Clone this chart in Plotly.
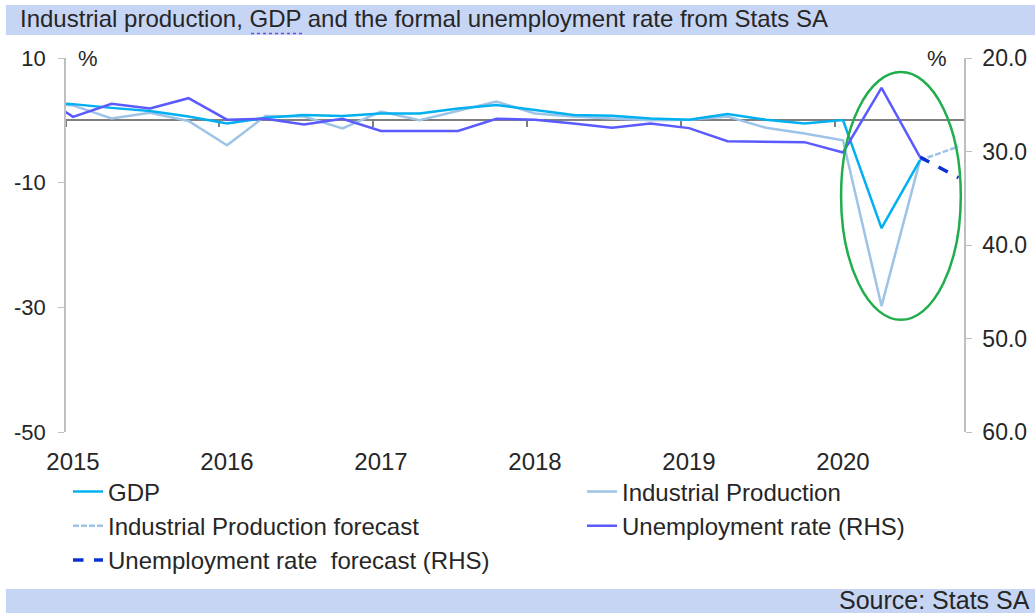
import plotly.graph_objects as go

# ---------------- data ----------------
# quarterly positions: index 0 = 2015Q1 (index -1 = 2014Q4, partly visible at the left edge)
quarter_idx = list(range(-1, 23))          # 2014Q4 .. 2020Q3
forecast_idx = [22, 23]                     # 2020Q3 .. 2020Q4

gdp = [3.0, 2.6, 2.0, 1.5, 0.6, -0.5, 0.4, 0.85, 0.7, 1.1, 1.1, 1.9, 2.45,
       1.65, 0.85, 0.75, 0.3, 0.1, 1.0, 0.1, -0.5, 0.05, -17.3, -6.4]
industrial = [2.8, 2.4, 0.3, 1.2, -0.1, -4.0, 0.7, 0.6, -1.3, 1.4, 0.0, 1.5, 3.0,
              1.1, 0.6, 0.3, 0.0, 0.1, 0.6, -1.2, -2.1, -3.2, -29.8, -6.4]
industrial_fc = [-6.4, -4.2]
unemployment = [23.6, 26.3, 24.9, 25.4, 24.3, 26.6, 26.5, 27.1, 26.5, 27.8, 27.8,
                27.8, 26.5, 26.6, 27.0, 27.45, 27.0, 27.5, 28.9, 28.95, 29.0, 30.1,
                23.2, 30.6]
unemployment_fc = [30.6, 32.8]

year_labels = ["2015", "2016", "2017", "2018", "2019", "2020"]
year_label_pos = [0, 4, 8, 12, 16, 20]
year_tick_pos = [-0.18, 3.8, 7.8, 11.8, 15.8, 19.8]
left_ticks = [-50, -30, -10, 10]
left_tick_text = ["-50", "-30", "-10", "10"]
right_ticks = [20, 30, 40, 50, 60]

FONT = "Liberation Sans, Arial, sans-serif"
TXT = "#262626"

fig = go.Figure()
fig.add_trace(go.Scatter(x=quarter_idx, y=industrial, name="Industrial Production",
                         mode="lines", line=dict(color="#9dc3e6", width=2.5),
                         legend="legend2", legendrank=1, hoverinfo="skip"))
fig.add_trace(go.Scatter(x=forecast_idx, y=industrial_fc, name="Industrial Production forecast",
                         mode="lines", line=dict(color="#9dc3e6", width=2.5, dash="6px,2px"),
                         legend="legend", legendrank=2, hoverinfo="skip"))
fig.add_trace(go.Scatter(x=quarter_idx, y=gdp, name="GDP", mode="lines",
                         line=dict(color="#00b0f0", width=2.5), legend="legend",
                         legendrank=1, hoverinfo="skip"))
fig.add_trace(go.Scatter(x=quarter_idx, y=unemployment, name="Unemployment rate (RHS)",
                         mode="lines", yaxis="y2", line=dict(color="#5a5aff", width=2.5),
                         legend="legend2", legendrank=2, hoverinfo="skip"))
fig.add_trace(go.Scatter(x=forecast_idx, y=unemployment_fc,
                         name="Unemployment rate\u00a0 forecast (RHS)", mode="lines",
                         yaxis="y2", line=dict(color="#0a32d2", width=3.5, dash="dash"),
                         legend="legend", legendrank=3, hoverinfo="skip"))
# carrier for the zero-line axis with year tick marks
fig.add_trace(go.Scatter(x=[0], y=[0], xaxis="x2", mode="markers",
                         marker=dict(opacity=0), showlegend=False, hoverinfo="skip"))

xr = [-0.182, 23.143]
fig.update_layout(
    width=1035, height=613, autosize=False,
    margin=dict(l=66, r=71, t=58, b=181),
    paper_bgcolor="white", plot_bgcolor="white",
    font=dict(family=FONT, size=22, color=TXT),
    title=dict(text="Industrial production, GDP and the formal unemployment rate from Stats SA",
               xref="container", yref="container", x=20 / 1035, y=1 - 19 / 613,
               xanchor="left", yanchor="middle", font=dict(size=24, color=TXT)),
    xaxis=dict(range=xr, tickvals=year_label_pos, ticktext=year_labels, ticks="",
               showline=False, showgrid=False, zeroline=False, automargin=False,
               tickfont=dict(size=24, color=TXT), ticklabelstandoff=13),
    xaxis2=dict(range=xr, overlaying="x", anchor="free", position=50 / 60,
                tickvals=year_tick_pos, ticks="outside", ticklen=6, tickwidth=1.5,
                tickcolor="#7f7f7f", showticklabels=False, showline=True,
                linecolor="#7f7f7f", linewidth=2, showgrid=False, zeroline=False,
                automargin=False, layer="below traces"),
    yaxis=dict(range=[-50, 10], tickvals=left_ticks, ticktext=left_tick_text,
               ticks="outside", ticklen=6, tickcolor="#bfbfbf", showline=True,
               linecolor="#bfbfbf", linewidth=1.5, showgrid=False, zeroline=False,
               automargin=False, tickfont=dict(size=22, color=TXT), ticklabelstandoff=8),
    yaxis2=dict(range=[60, 20], overlaying="y", side="right", tickvals=right_ticks,
                tickformat=".1f", ticks="outside", ticklen=6, tickcolor="#bfbfbf",
                showline=True, linecolor="#bfbfbf", linewidth=1.5, showgrid=False,
                zeroline=False, automargin=False, tickfont=dict(size=23, color=TXT),
                ticklabelstandoff=6),
    legend=dict(x=(110 - 42 - 66) / 898, xanchor="left", y=-0.100, yanchor="top",
                orientation="v", font=dict(size=24, color=TXT), bgcolor="rgba(0,0,0,0)",
                itemwidth=30, tracegroupgap=0),
    legend2=dict(x=(624 - 42 - 66) / 898, xanchor="left", y=-0.100, yanchor="top",
                 orientation="v", font=dict(size=24, color=TXT), bgcolor="rgba(0,0,0,0)",
                 itemwidth=30, tracegroupgap=0),
    showlegend=True,
)

def px_x(p):
    return (p - 66) / 898

def px_y(p):
    return (432 - p) / 374

shapes = [
    # title bar
    dict(type="rect", xref="paper", yref="paper", x0=px_x(6), x1=px_x(1036),
         y0=px_y(35), y1=px_y(5), fillcolor="#c6d5f4", line=dict(width=0), layer="below"),
    # source bar
    dict(type="rect", xref="paper", yref="paper", x0=px_x(6), x1=px_x(1036),
         y0=px_y(614), y1=px_y(589), fillcolor="#c6d5f4", line=dict(width=0), layer="below"),
    # dotted underline under GDP (proofing mark)
    dict(type="line", xref="paper", yref="paper", x0=px_x(251), x1=px_x(303),
         y0=px_y(33.5), y1=px_y(33.5), line=dict(color="#6a4fd8", width=1.5, dash="dot")),
    # green ellipse highlighting 2020
    dict(type="circle", xref="x", yref="y", x0=19.95, x1=23.06, y0=-32.0, y1=7.75,
         line=dict(color="#1fae4b", width=2.5), layer="above"),
]
fig.update_layout(shapes=shapes)

fig.add_annotation(text="%", xref="paper", yref="paper", x=px_x(76), y=1, xanchor="left",
                   yanchor="middle", showarrow=False, font=dict(size=22, color=TXT))
fig.add_annotation(text="%", xref="paper", yref="paper", x=px_x(949), y=1, xanchor="right",
                   yanchor="middle", showarrow=False, font=dict(size=22, color=TXT))
fig.add_annotation(text="Source: Stats SA", xref="paper", yref="paper", x=px_x(1032),
                   y=px_y(600), xanchor="right", yanchor="middle", showarrow=False,
                   font=dict(size=25, color=TXT))

fig.write_html("out.html")
